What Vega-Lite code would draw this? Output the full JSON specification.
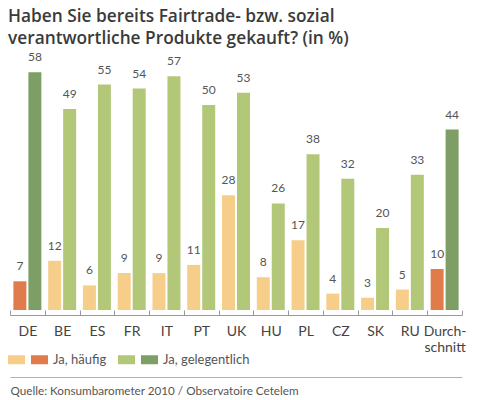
{
  "$schema": "https://vega.github.io/schema/vega-lite/v6.json",
  "description": "Fairtrade-Käufe nach Land, Ja häufig / Ja gelegentlich",
  "autosize": {"type": "none"},
  "width": 452,
  "height": 246,
  "padding": {"left": 10, "top": 64, "right": 16, "bottom": 90},
  "background": "white",
  "config": {
    "font": "Lato",
    "view": {"stroke": null},
    "legend": {
      "orient": "none",
      "direction": "horizontal",
      "title": null,
      "padding": 0,
      "symbolType": "M-1,-0.53H1V0.53H-1Z",
      "symbolSize": 289,
      "symbolStrokeWidth": 0,
      "symbolOpacity": 1,
      "labelOffset": 5,
      "columnPadding": 1,
      "labelFontSize": 13,
      "labelColor": "#555555"
    }
  },
  "title": {
    "text": ["Haben Sie bereits Fairtrade- bzw. sozial", "verantwortliche Produkte gekauft? (in %)"],
    "anchor": "start",
    "frame": "group",
    "dx": -2,
    "offset": 4,
    "fontSize": 17.3,
    "fontWeight": 600,
    "lineHeight": 22,
    "color": "#3a3a3a",
    "font": "Open Sans"
  },
  "data": {
    "values": [
      {"land": "DE", "typ": "h", "wert": 7},
      {"land": "DE", "typ": "g", "wert": 58},
      {"land": "BE", "typ": "h", "wert": 12},
      {"land": "BE", "typ": "g", "wert": 49},
      {"land": "ES", "typ": "h", "wert": 6},
      {"land": "ES", "typ": "g", "wert": 55},
      {"land": "FR", "typ": "h", "wert": 9},
      {"land": "FR", "typ": "g", "wert": 54},
      {"land": "IT", "typ": "h", "wert": 9},
      {"land": "IT", "typ": "g", "wert": 57},
      {"land": "PT", "typ": "h", "wert": 11},
      {"land": "PT", "typ": "g", "wert": 50},
      {"land": "UK", "typ": "h", "wert": 28},
      {"land": "UK", "typ": "g", "wert": 53},
      {"land": "HU", "typ": "h", "wert": 8},
      {"land": "HU", "typ": "g", "wert": 26},
      {"land": "PL", "typ": "h", "wert": 17},
      {"land": "PL", "typ": "g", "wert": 38},
      {"land": "CZ", "typ": "h", "wert": 4},
      {"land": "CZ", "typ": "g", "wert": 32},
      {"land": "SK", "typ": "h", "wert": 3},
      {"land": "SK", "typ": "g", "wert": 20},
      {"land": "RU", "typ": "h", "wert": 5},
      {"land": "RU", "typ": "g", "wert": 33},
      {"land": "Durchschnitt", "typ": "h", "wert": 10},
      {"land": "Durchschnitt", "typ": "g", "wert": 44}
    ]
  },
  "transform": [
    {"calculate": "datum.typ + '_' + (datum.land === 'DE' || datum.land === 'Durchschnitt' ? 'b' : 'a')", "as": "farbe"}
  ],
  "encoding": {
    "x": {
      "field": "land",
      "type": "nominal",
      "sort": null,
      "scale": {"paddingInner": 0, "paddingOuter": 0}
    },
    "xOffset": {
      "field": "typ",
      "type": "nominal",
      "sort": ["h", "g"],
      "scale": {"domain": ["h", "g"], "paddingInner": 0.1333, "paddingOuter": 0.2267}
    },
    "y": {
      "field": "wert",
      "type": "quantitative",
      "scale": {"domain": [0, 60], "nice": false},
      "axis": null
    }
  },
  "layer": [
    {
      "transform": [{"filter": "datum.typ === 'h'"}],
      "mark": {"type": "bar"},
      "encoding": {
        "x": {
          "field": "land",
          "type": "nominal",
          "sort": null,
          "axis": {
            "orient": "bottom",
            "title": null,
            "offset": 5,
            "domainColor": "#9a9a9a",
            "tickColor": "#9a9a9a",
            "tickSize": -5,
            "tickBand": "extent",
            "labelAngle": 0,
            "labelFontSize": 14,
            "labelColor": "#444444",
            "labelPadding": 14,
            "labelLineHeight": 16,
            "labelExpr": "datum.label == 'Durchschnitt' ? ['Durch-', 'schnitt'] : datum.label"
          }
        },
        "color": {
          "field": "farbe",
          "type": "nominal",
          "scale": {"domain": ["h_a", "h_b"], "range": ["#F6CE8A", "#E07B4B"]},
          "legend": {
            "legendX": -2,
            "legendY": 287,
            "labelExpr": "datum.value == 'h_b' ? 'Ja, häufig' : ''"
          }
        }
      }
    },
    {
      "transform": [{"filter": "datum.typ === 'g'"}],
      "mark": {"type": "bar"},
      "encoding": {
        "x": {"field": "land", "type": "nominal", "sort": null, "axis": null},
        "color": {
          "field": "farbe",
          "type": "nominal",
          "scale": {"domain": ["g_a", "g_b"], "range": ["#B3C779", "#7D9F66"]},
          "legend": {
            "legendX": 108,
            "legendY": 287,
            "labelExpr": "datum.value == 'g_b' ? 'Ja, gelegentlich' : ''"
          }
        }
      }
    },
    {
      "mark": {"type": "text", "dy": -8, "fontSize": 12, "color": "#555555", "baseline": "bottom"},
      "encoding": {
        "x": {
          "field": "land",
          "type": "nominal",
          "sort": null,
          "axis": {
            "orient": "bottom",
            "offset": 67,
            "domainColor": "#b0b0b0",
            "ticks": false,
            "labels": false,
            "title": "Quelle: Konsumbarometer 2010 / Observatoire Cetelem",
            "titleAnchor": "start",
            "titleAlign": "left",
            "titlePadding": 8,
            "titleFontSize": 11.7,
            "titleFontWeight": "normal",
            "titleColor": "#555555"
          }
        },
        "text": {"field": "wert", "type": "quantitative"}
      }
    }
  ],
  "resolve": {"axis": {"x": "independent"}, "scale": {"color": "independent"}}
}
